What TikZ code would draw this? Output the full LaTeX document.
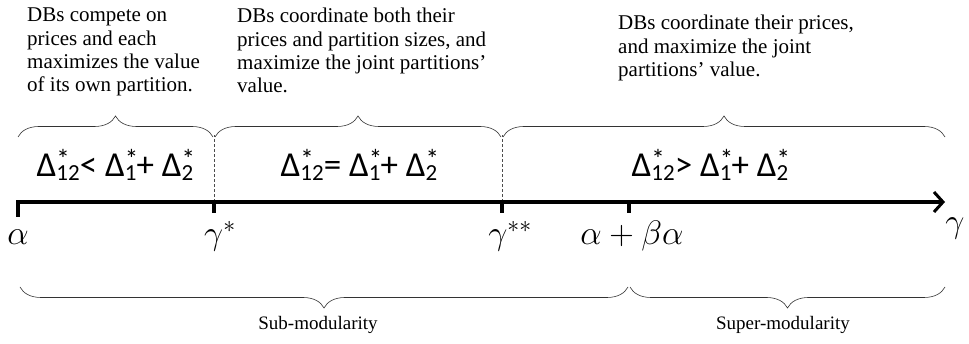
\RequirePackage{fix-cm}
\documentclass[tikz,border=0pt]{standalone}
\usepackage{fontspec}
\setmainfont{Liberation Serif}
\newfontfamily\calib{Carlito}
\usetikzlibrary{arrows.meta,decorations.pathreplacing}
\newcommand\dlt[1]{Δ\rlap{\raisebox{0.24em}{\fontsize{27}{27}\selectfont *}}\raisebox{-0.09em}{\fontsize{23}{23}\selectfont #1}}
\begin{document}
\begin{tikzpicture}[x=1pt,y=1pt,
  desc/.style={anchor=north west,inner sep=0,align=left,font=\fontsize{21}{23.3}\selectfont},
  brc/.style={decorate,decoration={brace,amplitude=21pt,aspect=0.5},line width=0.6pt,draw=black!80},
  cond/.style={inner sep=0,anchor=base,font=\calib\fontsize{35}{35}\selectfont},
  axlbl/.style={inner sep=0,anchor=base,font=\fontsize{34}{34}\selectfont},
  modl/.style={inner sep=0,anchor=base,font=\fontsize{19}{19}\selectfont},
  tick/.style={line width=3.5pt},
  guide/.style={densely dashed,line width=0.4pt,draw=black!70}]
\useasboundingbox (0,0) rectangle (969,344);
% descriptions
\node[desc] (d1) at (27,336) {DBs compete on\\prices and each\\maximizes the value\\of its own partition.};
\node[desc] (d2) at (237,336) {DBs coordinate both their\\prices and partition sizes, and\\maximize the joint partitions'\\value.};
\node[desc] (d3) at (618,329) {DBs coordinate their prices,\\and maximize the joint\\partitions' value.};
% coordinates
\coordinate (a0) at (18,142);
\coordinate (g1) at (214,142);
\coordinate (g2) at (502,142);
\coordinate (ab) at (629,142);
\coordinate (end) at (945,142);
% top braces
\draw[brc] (18,207) -- (213,207);
\draw[brc] (215,207) -- (501,207);
\draw[brc] (503,207) -- (945,207);
% guides
\draw[guide] (g1) -- (214,209);
\draw[guide] (g2) -- (502,209);
% axis
\draw[line width=3.5pt,-{Straight Barb[length=9pt,width=20pt,line width=3pt]}] (16.25,142) -- (end);
\draw[tick] (a0) -- (18,127);
\draw[tick] (g1) -- (214,131);
\draw[tick] (g2) -- (502,131);
\draw[tick] (ab) -- (629,131);
% conditions
\node[cond] (c1) at (115,167) {\dlt{12}< \dlt{1}+ \dlt{2}};
\node[cond] (c2) at (359,167) {\dlt{12}= \dlt{1}+ \dlt{2}};
\node[cond] (c3) at (710,167) {\dlt{12}> \dlt{1}+ \dlt{2}};
% axis labels
\node[axlbl] (la) at (18,99) {$\alpha$};
\node[axlbl] (lg1) at (220,99) {$\gamma^*$};
\node[axlbl] (lg2) at (510,99) {$\gamma^{**}$};
\node[axlbl] (lab) at (632,99) {$\alpha+\beta\alpha$};
\node[axlbl] (lg) at (955,111) {$\gamma$};
% bottom braces
\draw[brc] (628,57) -- (20,57);
\draw[brc] (945,57) -- (630,57);
\node[modl] (sub) at (318,14) {Sub-modularity};
\node[modl] (sup) at (783,14) {Super-modularity};
\end{tikzpicture}
\end{document}
